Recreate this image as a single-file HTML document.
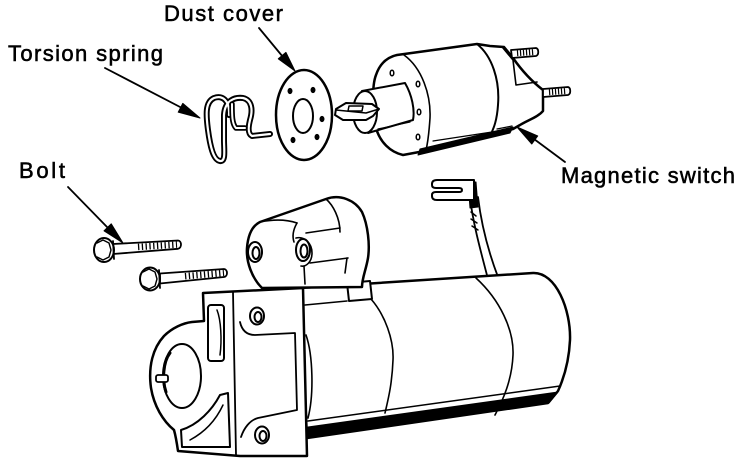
<!DOCTYPE html>
<html><head><meta charset="utf-8"><style>
html,body{margin:0;padding:0;background:#fff;}
svg{display:block;}
text{font-family:"Liberation Sans",Arial,sans-serif;font-size:22px;fill:#000;stroke:#000;stroke-width:0.55px;}
</style></head><body>
<svg width="747" height="466" viewBox="0 0 747 466" xmlns="http://www.w3.org/2000/svg">
<rect width="747" height="466" fill="#fff"/>

<!-- Labels -->
<text x="164" y="21" textLength="119" lengthAdjust="spacing">Dust cover</text>
<text x="8" y="61" textLength="155" lengthAdjust="spacing">Torsion spring</text>
<text x="19" y="178" textLength="46" lengthAdjust="spacing">Bolt</text>
<text x="561" y="183" textLength="174" lengthAdjust="spacing">Magnetic switch</text>

<g fill="none" stroke="#000" stroke-width="2" stroke-linejoin="round" stroke-linecap="round">

<!-- Arrows -->
<path d="M259 28 L283 57" stroke-width="1.8"/>
<polygon points="295,71 278.3,58.8 285.9,52.4" fill="#000" stroke-width="1"/>
<path d="M105 68 L182 108" stroke-width="1.8"/>
<polygon points="200,118 178.2,112.2 182.8,103.4" fill="#000" stroke-width="1"/>
<path d="M68 187 L108 228" stroke-width="1.8"/>
<polygon points="123,243 104,230.8 111.2,223.8" fill="#000" stroke-width="1"/>
<path d="M565 162 L534 139" stroke-width="1.8"/>
<polygon points="517,127 537.7,136 531.8,144" fill="#000" stroke-width="1"/>

<!-- Torsion spring -->
<g>
<path d="M229 115 C230 100 222 95 214 98 C205 102 206 115 208 130 C210 145 213 160 220 161 C226 162 224 150 224 140 L224 115 C225 100 235 97 243 98 C252 100 253 110 250 120 C248 128 248 134 252 136 L270 134" stroke-width="6"/>
<path d="M229 115 C230 100 222 95 214 98 C205 102 206 115 208 130 C210 145 213 160 220 161 C226 162 224 150 224 140 L224 115 C225 100 235 97 243 98 C252 100 253 110 250 120 C248 128 248 134 252 136 L270 134" stroke-width="2.2" stroke="#fff"/>
<path d="M232 104 C232 115 232 124 236 128 L245 128" stroke-width="5.5"/>
<path d="M232 104 C232 115 232 124 236 128 L245 128" stroke-width="2" stroke="#fff"/>
</g>

<!-- Dust cover -->
<ellipse cx="304" cy="115" rx="28" ry="45" fill="#fff" stroke-width="2.5"/>
<ellipse cx="303" cy="116" rx="10" ry="17"/>
<g fill="#000" stroke-width="1">
<ellipse cx="290" cy="91" rx="2" ry="2.6"/>
<ellipse cx="313" cy="90" rx="2" ry="2.6"/>
<ellipse cx="322" cy="119" rx="2" ry="2.6"/>
<ellipse cx="317" cy="137" rx="2" ry="2.6"/>
<ellipse cx="293" cy="140" rx="2" ry="2.6"/>
</g>

<!-- Magnetic switch -->
<path d="M397 55 L477 44 L490 46 L504 47 L513 58 C520 68 530 80 543 90 L543 111 C538 117 528 120 520 125 L513 129 L430 150 L403 155 C390 152 380 142 376 128 C372 112 372 85 376 75 C380 63 388 57 397 55 Z" fill="#fff" stroke-width="2.5"/>
<path d="M477 44 C492 56 500 80 498 105 C497 120 494 128 490 136"/>
<path d="M503 48 L513 60 L516 85 L537 82" stroke-width="1.6"/>
<path d="M404 55 C422 68 431 95 430 118 C429 133 428 142 426 150" stroke-width="1.6"/>
<path d="M420 149 L513 127 L510 133 L418 155 Z" fill="#000" stroke-width="1"/>
<path d="M433 141 L492 132" stroke-width="1.2"/>
<path d="M497 129 L512 126" stroke-width="1.2"/>
<g stroke-width="1.5">
<ellipse cx="392" cy="73" rx="1.8" ry="2.8"/>
<ellipse cx="418" cy="84" rx="1.8" ry="2.8"/>
<ellipse cx="419" cy="112" rx="1.8" ry="2.8"/>
<ellipse cx="418" cy="137" rx="1.8" ry="2.8"/>
</g>
<!-- studs -->
<path d="M511 50 L536 48 C539 49 539 55 536 56 L512 58 Z" fill="#fff" stroke-width="1.8"/>
<path d="M517 53.2 L535 52" stroke-width="6" stroke-dasharray="1.2 1.8" stroke-linecap="butt"/>
<path d="M543 89 L568 87 C571 88 571 94 568 95 L543 97 Z" fill="#fff" stroke-width="1.8"/>
<path d="M549 92.2 L567 91" stroke-width="6" stroke-dasharray="1.2 1.8" stroke-linecap="butt"/>
<!-- plunger shaft -->
<path d="M362 91 L405 83 C412 95 415 110 413 120 L368 133 Z" fill="#fff"/>
<path d="M378 129 L410 122" stroke-width="1.2"/>
<ellipse cx="365" cy="112" rx="12" ry="21" fill="#fff"/>
<!-- blade tab -->
<path d="M336 109 L346 103 L372 104 L379 109 L373 116 L366 120 L343 120 L335 115 Z" fill="#fff"/>
<path d="M336 110 L366 113 L379 109" stroke-width="1.5"/>
<path d="M349 106 L363 106 L362 111 L348 111 Z" stroke-width="1.5"/>

<!-- Bolts -->
<path d="M113 244 L178 240.5 C182 241 182 248 178 248.8 L113 254 Z" fill="#fff" stroke-width="1.8"/>
<path d="M138 247 L177 244.6" stroke-width="6.5" stroke-dasharray="1.3 2.5" stroke-linecap="butt"/>
<ellipse cx="104" cy="250" rx="10" ry="12" fill="#fff"/>
<path d="M97 243 L103 240 L109 243 L111 250 L109 257 L103 260 L97 257" stroke-width="1.4"/>
<path d="M113 241 L114 259" stroke-width="1.8"/>

<path d="M160 273.5 L224 269 C228 269.5 228 276.5 224 277 L160 283.5 Z" fill="#fff" stroke-width="1.8"/>
<path d="M185 276.2 L224 273" stroke-width="6.5" stroke-dasharray="1.3 2.5" stroke-linecap="butt"/>
<ellipse cx="150" cy="279" rx="10" ry="11.5" fill="#fff"/>
<path d="M143 272 L149 269 L155 272 L157 279 L155 286 L149 289 L143 286" stroke-width="1.4"/>
<path d="M159 270 L160 288" stroke-width="1.8"/>

<!-- Wire to terminal -->
<path d="M470 198 C473 222 479 245 488 279" stroke-width="1.8"/>
<path d="M478 197 C481 222 487 248 498 277" stroke-width="1.8"/>
<path d="M468 182 L476 182 L478 207 L470 208 Z" fill="#000" stroke-width="1"/>
<path d="M471 212 L476 216 M471 219 L477 223 M472 226 L478 230" stroke-width="1.5"/>
<path d="M474 180 L437 180 Q432 180 432 184 L432 185 Q432 188 436 188 L459 188 Q462 188 462 190 Q462 192 459 192 L436 192 Q432 192 432 195 L432 196 Q432 200 437 200 L474 200 Z" fill="#fff" stroke-width="2"/>

<!-- Motor body -->
<path d="M300 288 L533 273 C556 272 571 310 570 340 C569 362 563 380 558 391 L548 403 L307 438 Z" fill="#fff" stroke-width="2.5"/>
<path d="M308 427 L558 392 L549 403 L308 438 Z" fill="#000" stroke-width="1"/>
<path d="M308 421 L560 386" stroke-width="1.5"/>
<path d="M371 299 C385 315 394 340 393 360 C392 385 388 400 385 413" stroke-width="1.6"/>
<path d="M476 278 C500 300 514 330 513 355 C512 380 503 400 495 415" stroke-width="1.6"/>
<path d="M306 335 C313 355 314 395 308 418" stroke-width="1.6"/>
<path d="M305 305 L347 301" stroke-width="1.6"/>
<path d="M347 283 L370 281 L372 299 L349 301 Z" fill="#fff"/>

<!-- Boss (nose housing top) -->
<path d="M262 288 C252 278 246 262 247 248 C248 235 252 226 260 222 L326 199 C340 194 355 200 362 212 C368 225 370 245 368 258 C366 270 362 278 362 287 Z" fill="#fff" stroke-width="2.5"/>
<path d="M260 222 C275 219 288 220 297 223" stroke-width="1.6"/>
<path d="M297 223 C293 230 292 236 294 242" stroke-width="1.6"/>
<path d="M296 238 C304 236 312 243 312 253 C312 262 306 267 301 266" stroke-width="1.6"/>
<path d="M304 266 L305 284" stroke-width="1.6"/>
<path d="M326 199 C333 205 340 218 340 232" stroke-width="1.6"/>
<path d="M306 233 L340 228" stroke-width="1.6"/>
<path d="M310 263 L348 258" stroke-width="1.6"/>
<path d="M347 258 L345 273" stroke-width="1.6"/>
<ellipse cx="255" cy="252" rx="7" ry="10" fill="#fff"/>
<ellipse cx="256" cy="253" rx="3.5" ry="6"/>
<ellipse cx="303" cy="250" rx="7" ry="11" fill="#fff"/>
<ellipse cx="304" cy="251" rx="3.5" ry="6.5"/>

<!-- Drive end bracket -->
<path d="M203 293 L303 288 L307 456 L240 456 L178 451 C177 444 176 437 174 430 C163 421 154 406 151 388 C148 366 153 348 164 336 C172 328 183 323 192 322 L204 321 Z" fill="#fff" stroke-width="2.5"/>
<path d="M233 292 L236 455" stroke-width="1.8"/>
<ellipse cx="182" cy="376" rx="19" ry="32" fill="#fff"/>
<path d="M170 353 C163 362 162 380 166 392" stroke-width="3"/>
<rect x="156" y="375" width="12" height="7" rx="2" fill="#fff" stroke-width="1.8"/>
<rect x="208" y="305" width="16" height="56" rx="3" fill="#fff"/>
<path d="M217 310 C221 320 222 340 220 355" stroke-width="1.5"/>
<path d="M228 393 L230 447 L182 447 L181 430 C198 425 212 410 220 395 Z" fill="#fff"/>
<path d="M190 440 C205 432 216 420 223 405" stroke-width="1.5"/>
<path d="M240 322 C242 331 247 335 255 335 L295 333 L297 410 L258 418 C250 420 244 428 241 437" stroke-width="1.8"/>
<ellipse cx="257" cy="316" rx="7" ry="8.5" fill="#fff"/>
<ellipse cx="258" cy="317" rx="3.5" ry="5"/>
<ellipse cx="262" cy="435" rx="7" ry="8.5" fill="#fff"/>
<ellipse cx="263" cy="436" rx="3.5" ry="5"/>
</g>
</svg>
</body></html>
